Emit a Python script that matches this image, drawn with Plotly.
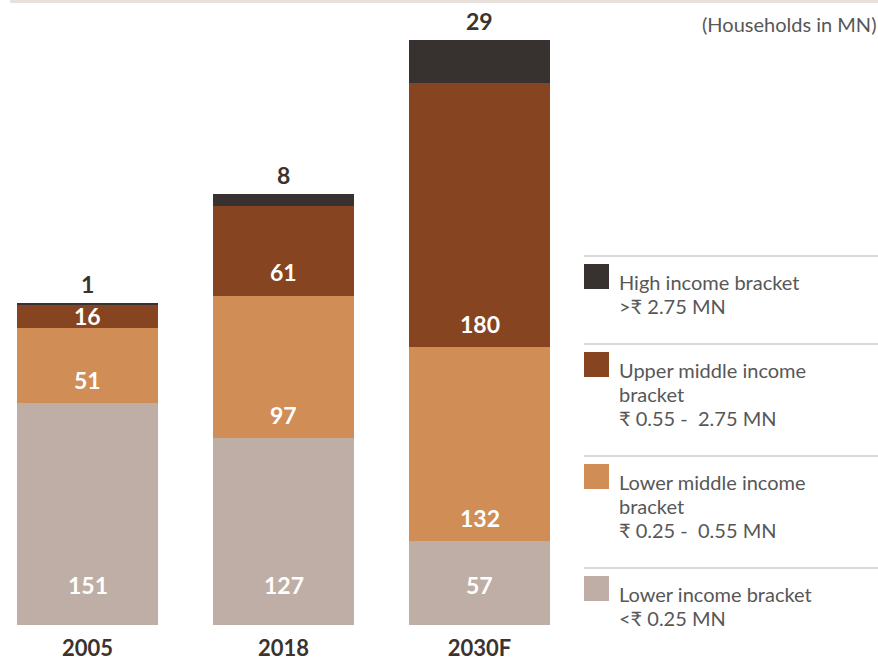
import plotly.graph_objects as go

# ---- data ----
years = ["2005", "2018", "2030F"]
lower = [151, 127, 57]
lower_middle = [51, 97, 132]
upper_middle = [16, 61, 180]
high = [1, 8, 29]

series_names = ["Lower income bracket", "Lower middle income bracket",
                "Upper middle income bracket", "High income bracket"]
series_values = [lower, lower_middle, upper_middle, high]
legend_lines = [
    ["Lower income bracket", "<₹ 0.25 MN"],
    ["Lower middle income", "bracket", "₹ 0.25 -  0.55 MN"],
    ["Upper middle income", "bracket", "₹ 0.55 -  2.75 MN"],
    ["High income bracket", ">₹ 2.75 MN"],
]
unit_note = "(Households in MN)"

# ---- style ----
colors = ["#beaea5", "#d08d55", "#864520", "#37322f"]
W, H = 878, 661
BASE_PX = 625
PX_PER_UNIT = 1.4698
FONT = "Lato, 'Open Sans', sans-serif"
DARK = "#3a3330"
GREY = "#575757"

fig = go.Figure()
for name, vals, col in zip(series_names, series_values, colors):
    fig.add_trace(go.Bar(x=years, y=vals, name=name, marker=dict(color=col, line=dict(width=0)),
                         showlegend=False, hoverinfo="x+y+name"))

# inside value labels (placed near the base of each segment)
lift = [27, 16, 16]
base = [0, 0, 0]
for si in range(3):
    vals = series_values[si]
    for i in range(len(years)):
        fig.add_annotation(x=i, y=base[i] + min(vals[i] / 2, lift[si]), text=f"<b>{vals[i]}</b>",
                           showarrow=False, yanchor="middle", xref="x", yref="y",
                           font=dict(family=FONT, size=23, color="white"))
        base[i] += vals[i]
# top labels (high income) above bars
for i in range(len(years)):
    fig.add_annotation(x=i, y=base[i] + high[i], text=f"<b>{high[i]}</b>", showarrow=False,
                       yanchor="bottom", yshift=3, xref="x", yref="y",
                       font=dict(family=FONT, size=23, color=DARK))

def py(px):
    return (BASE_PX - px) / BASE_PX

# unit note
fig.add_annotation(x=1, y=py(24), xref="paper", yref="paper", xanchor="right",
                   yanchor="middle", text=unit_note, showarrow=False,
                   font=dict(family=FONT, size=20, color=GREY))

# top decorative band
fig.add_shape(type="rect", xref="paper", yref="paper", x0=10 / W, x1=1, y0=py(3), y1=1,
              fillcolor="#e8e0da", line=dict(width=0), layer="above")

# custom legend (top to bottom: high, upper middle, lower middle, lower)
sep_px = [256, 344, 456, 568]
order = [3, 2, 1, 0]
for k, si in enumerate(order):
    top = sep_px[k]
    fig.add_shape(type="line", xref="paper", yref="paper", x0=584 / W, x1=1,
                  y0=py(top), y1=py(top), line=dict(color="#b5b5b5", width=1))
    fig.add_shape(type="rect", xref="paper", yref="paper", x0=584 / W, x1=609 / W,
                  y0=py(top + 33), y1=py(top + 8), fillcolor=colors[si], line=dict(width=0))
    for j, line in enumerate(legend_lines[si]):
        fig.add_annotation(x=617 / W, y=py(top + 26 + 24 * j), xref="paper", yref="paper",
                           xanchor="left", yanchor="middle", align="left", showarrow=False,
                           text=line, font=dict(family=FONT, size=20, color=GREY))

x0 = -87.5 / 196
fig.update_layout(
    width=W, height=H, barmode="stack", bargap=1 - 141 / 196,
    margin=dict(l=0, r=0, t=0, b=H - BASE_PX),
    plot_bgcolor="white", paper_bgcolor="white",
    xaxis=dict(type="category", range=[x0, x0 + W / 196], showgrid=False, zeroline=False,
               showline=False, ticks="", ticklabelstandoff=8,
               tickfont=dict(family=FONT, size=22, color=DARK, weight="bold")),
    yaxis=dict(range=[0, BASE_PX / PX_PER_UNIT], visible=False),
    font=dict(family=FONT),
)
fig.write_html("out.html", config={"displayModeBar": False},
               post_script="document.body.style.margin='0';document.body.style.overflow='hidden';")
